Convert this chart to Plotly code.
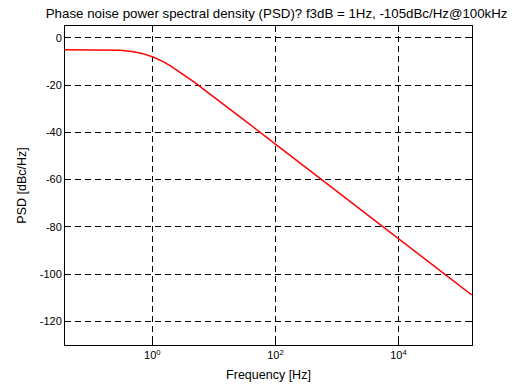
import plotly.graph_objects as go

# Data
freq_hz = [0.038, 0.1, 0.2, 0.3, 0.5, 0.7, 1, 1.5, 2, 3, 5, 7, 10, 30, 100, 1000, 1e4, 1e5, 1.55e5]
psd_dbc = [-5.0, -5.0, -5.1, -5.3, -5.9, -6.7, -8.0, -10.1, -12.0, -15.0, -19.1, -22.0, -25.0,
           -34.5, -45.0, -65.0, -85.0, -105.0, -108.8]

x_tickvals = [1, 100, 1e4]
x_ticktext = ["10<sup>0</sup>", "10<sup>2</sup>", "10<sup>4</sup>"]
y_tickvals = [0, -20, -40, -60, -80, -100, -120]
y_ticktext = ["0", "-20", "-40", "-60", "-80", "-100", "-120"]

title_text = "Phase noise power spectral density (PSD)? f3dB = 1Hz, -105dBc/Hz@100kHz"

fig = go.Figure()
fig.add_trace(go.Scatter(x=freq_hz, y=psd_dbc, mode="lines",
                         line=dict(color="#ff0000", width=1.5), showlegend=False))

font_family = "Liberation Sans, Arial, sans-serif"
fig.update_layout(
    width=532, height=392,
    margin=dict(l=65, r=60, t=26, b=45),
    paper_bgcolor="white", plot_bgcolor="white",
    font=dict(family=font_family, color="black", size=11),
    title=dict(text=title_text, x=0.52, xanchor="center", y=0.966, yanchor="middle",
               font=dict(size=13.3, family=font_family, color="black")),
    xaxis=dict(type="log", range=[-1.42, 5.195],
               tickvals=x_tickvals, ticktext=x_ticktext,
               ticks="inside", ticklen=5, tickcolor="black",
               showgrid=True, gridcolor="black", gridwidth=1, griddash="6px,4px",
               showline=True, linecolor="black", linewidth=1, mirror="ticks",
               zeroline=False,
               title=dict(text="Frequency [Hz]", font=dict(size=12.5), standoff=10),
               tickfont=dict(size=11)),
    yaxis=dict(range=[-130, 5], tickvals=y_tickvals, ticktext=y_ticktext,
               ticks="inside", ticklen=5, tickcolor="black",
               showgrid=True, gridcolor="black", gridwidth=1, griddash="6px,4px",
               showline=True, linecolor="black", linewidth=1, mirror="ticks",
               zeroline=False,
               title=dict(text="PSD [dBc/Hz]", font=dict(size=12.5), standoff=10),
               tickfont=dict(size=11)),
)

fig.write_html("out.html")
